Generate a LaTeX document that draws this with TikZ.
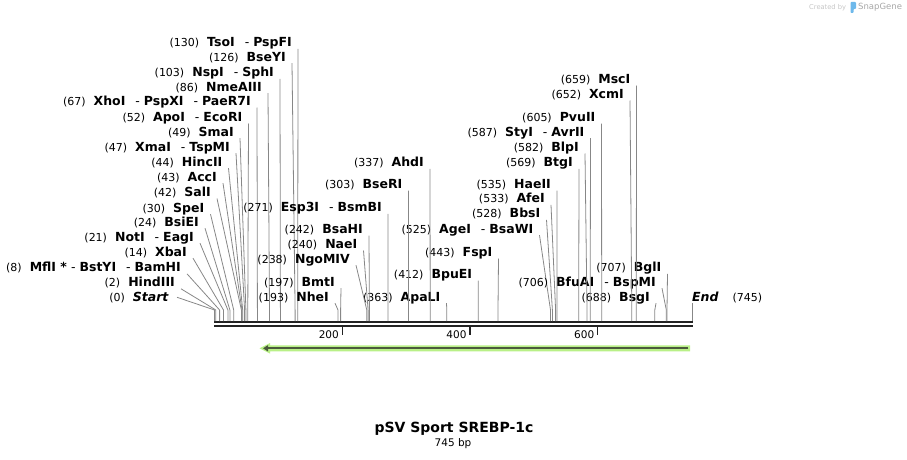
\documentclass[tikz,border=0pt]{standalone}
\usepackage{fontspec}
\setmainfont{DejaVu Sans}
\usetikzlibrary{arrows.meta}
\definecolor{cutgray}{RGB}{135,135,135}
\definecolor{bbdark}{RGB}{34,34,34}
\definecolor{halogreen}{RGB}{185,240,135}
\definecolor{featdark}{RGB}{75,90,60}
\definecolor{logoblue}{RGB}{110,185,235}
\newcommand{\sitepos}[1]{{\fontsize{11}{13}\selectfont(#1)}\hspace{8pt}}
\newcommand{\dsep}{\hspace{10pt}-\hspace{4pt}}

\begin{document}
\begin{tikzpicture}
	[x=1pt, y=-1pt,
	 enz/.style={anchor=base east, inner sep=0pt, font=\fontsize{12.5}{14}\selectfont},
	 cut/.style={cutgray, line width=0.8pt},
	 backbone/.style={bbdark, line width=2.8pt},
	 tick/.style={bbdark, line width=1.5pt},
	 ticklbl/.style={anchor=east, inner sep=0pt, font=\fontsize{10.5}{12}\selectfont}]
	\useasboundingbox (0,0) rectangle (907,460);

	%Backbone
	\coordinate (top) at (0,321);
	\draw[backbone] (214,322) -- (692.5,322);
	\draw[backbone] (214,326) -- (692.5,326);
	\draw[tick] (342.3,327) -- (342.3,335);
	\draw[tick] (470,327) -- (470,335);
	\draw[tick] (597.7,327) -- (597.7,335);
	\node[ticklbl] (t200) at (339,334.5) {200};
	\node[ticklbl] (t400) at (466.7,334.5) {400};
	\node[ticklbl] (t600) at (594.4,334.5) {600};

	%Feature arrow
	\fill[halogreen] (690,345.3) -- (270,345.3) -- (270,343) -- (259.5,348.3) -- (270,353.6) -- (270,351.3) -- (690,351.3) -- cycle;
	\draw[featdark, line width=2pt, -{Triangle[length=5pt,width=6pt]}] (688.3,348.3) -- (263,348.3);

	%Cut sites
	\coordinate (c0) at (214.5,310);
	\coordinate (c2) at (215.8,310);
	\coordinate (c8) at (219.6,310);
	\coordinate (c14) at (223.5,310);
	\coordinate (c21) at (227.9,310);
	\coordinate (c24) at (229.9,310);
	\coordinate (c30) at (233.7,310);
	\coordinate (c42) at (241.4,310);
	\coordinate (c43) at (242.0,310);
	\coordinate (c44) at (242.7,310);
	\coordinate (c47) at (244.6,310);
	\coordinate (c49) at (245.9,310);
	\coordinate (c52) at (247.8,310);
	\coordinate (c67) at (257.4,310);
	\coordinate (c86) at (269.5,310);
	\coordinate (c103) at (280.4,310);
	\coordinate (c126) at (295.1,310);
	\coordinate (c130) at (297.7,310);
	\coordinate (c193) at (338.0,310);
	\coordinate (c197) at (340.6,310);
	\coordinate (c238) at (366.8,310);
	\coordinate (c240) at (368.1,310);
	\coordinate (c242) at (369.4,310);
	\coordinate (c271) at (387.9,310);
	\coordinate (c303) at (408.4,310);
	\coordinate (c337) at (430.2,310);
	\coordinate (c363) at (446.8,310);
	\coordinate (c412) at (478.2,310);
	\coordinate (c443) at (498.0,310);
	\coordinate (c525) at (550.5,310);
	\coordinate (c528) at (552.4,310);
	\coordinate (c533) at (555.6,310);
	\coordinate (c535) at (556.9,310);
	\coordinate (c569) at (578.7,310);
	\coordinate (c582) at (587.0,310);
	\coordinate (c587) at (590.2,310);
	\coordinate (c605) at (601.7,310);
	\coordinate (c652) at (631.8,310);
	\coordinate (c659) at (636.3,310);
	\coordinate (c688) at (654.8,310);
	\coordinate (c706) at (666.3,310);
	\coordinate (c707) at (667.0,310);
	\coordinate (c745) at (692,310);

	%Left labels
	\node[enz] (tso) at (292,46.8) {\sitepos{130}\textbf{TsoI}\dsep\textbf{PspFI}};
	\node[enz] (bsey) at (286,61.2) {\sitepos{126}\textbf{BseYI}};
	\node[enz] (nsp) at (274,76.8) {\sitepos{103}\textbf{NspI}\dsep\textbf{SphI}};
	\node[enz] (nme) at (262,91.2) {\sitepos{86}\textbf{NmeAIII}};
	\node[enz] (xho) at (251,105.5) {\sitepos{67}\textbf{XhoI}\dsep\textbf{PspXI}\dsep\textbf{PaeR7I}};
	\node[enz] (apo) at (242.5,121.5) {\sitepos{52}\textbf{ApoI}\dsep\textbf{EcoRI}};
	\node[enz] (sma) at (234,136.2) {\sitepos{49}\textbf{SmaI}};
	\node[enz] (xma) at (230,151.2) {\sitepos{47}\textbf{XmaI}\dsep\textbf{TspMI}};
	\node[enz] (hinc) at (222.5,166.2) {\sitepos{44}\textbf{HincII}};
	\node[enz] (acc) at (217,181.2) {\sitepos{43}\textbf{AccI}};
	\node[enz] (sal) at (211,196.5) {\sitepos{42}\textbf{SalI}};
	\node[enz] (spe) at (204.5,212.2) {\sitepos{30}\textbf{SpeI}};
	\node[enz] (bsie) at (199,226.2) {\sitepos{24}\textbf{BsiEI}};
	\node[enz] (notI) at (194,241.2) {\sitepos{21}\textbf{NotI}\dsep\textbf{EagI}};
	\node[enz] (xba) at (187,256.2) {\sitepos{14}\textbf{XbaI}};
	\node[enz] (mfl) at (181,271.8) {\sitepos{8}\textbf{MflI *}\hspace{4pt}-\hspace{4pt}\textbf{BstYI}\dsep\textbf{BamHI}};
	\node[enz] (hind) at (175,286.8) {\sitepos{2}\textbf{HindIII}};
	\node[enz] (startlbl) at (169,301.2) {\sitepos{0}\textbf{\textit{Start}}};

	\draw[cut] ([shift={(6,2)}]tso.base east) -- (c130) -- (c130 |- top);
	\draw[cut] ([shift={(6,2)}]bsey.base east) -- (c126) -- (c126 |- top);
	\draw[cut] ([shift={(6,2)}]nsp.base east) -- (c103) -- (c103 |- top);
	\draw[cut] ([shift={(6,2)}]nme.base east) -- (c86) -- (c86 |- top);
	\draw[cut] ([shift={(6,2)}]xho.base east) -- (c67) -- (c67 |- top);
	\draw[cut] ([shift={(6,2)}]apo.base east) -- (c52) -- (c52 |- top);
	\draw[cut] ([shift={(6,2)}]sma.base east) -- (c49) -- (c49 |- top);
	\draw[cut] ([shift={(6,2)}]xma.base east) -- (c47) -- (c47 |- top);
	\draw[cut] ([shift={(6,2)}]hinc.base east) -- (c44) -- (c44 |- top);
	\draw[cut] ([shift={(6,2)}]acc.base east) -- (c43) -- (c43 |- top);
	\draw[cut] ([shift={(6,2)}]sal.base east) -- (c42) -- (c42 |- top);
	\draw[cut] ([shift={(6,2)}]spe.base east) -- (c30) -- (c30 |- top);
	\draw[cut] ([shift={(6,2)}]bsie.base east) -- (c24) -- (c24 |- top);
	\draw[cut] ([shift={(6,2)}]notI.base east) -- (c21) -- (c21 |- top);
	\draw[cut] ([shift={(6,2)}]xba.base east) -- (c14) -- (c14 |- top);
	\draw[cut] ([shift={(6,2)}]mfl.base east) -- (c8) -- (c8 |- top);
	\draw[cut] ([shift={(6,2)}]hind.base east) -- (c2) -- (c2 |- top);
	\draw[cut] ([shift={(8,0)}]startlbl.east) -- (c0) -- (c0 |- top);

	%Middle labels
	\node[enz] (esp) at (382,211.8) {\sitepos{271}\textbf{Esp3I}\dsep\textbf{BsmBI}};
	\node[enz] (bsah) at (363,233.5) {\sitepos{242}\textbf{BsaHI}};
	\node[enz] (nae) at (357.5,248.5) {\sitepos{240}\textbf{NaeI}};
	\node[enz] (ngo) at (350,263.2) {\sitepos{238}\textbf{NgoMIV}};
	\node[enz] (bmt) at (335,286.2) {\sitepos{197}\textbf{BmtI}};
	\node[enz] (nhe) at (329,301.2) {\sitepos{193}\textbf{NheI}};
	\node[enz] (ahd) at (424,166.8) {\sitepos{337}\textbf{AhdI}};
	\node[enz] (bser) at (402.5,188.5) {\sitepos{303}\textbf{BseRI}};
	\node[enz] (apal) at (440.5,301.2) {\sitepos{363}\textbf{ApaLI}};
	\node[enz] (age) at (533.5,233.2) {\sitepos{525}\textbf{AgeI}\dsep\textbf{BsaWI}};
	\node[enz] (fsp) at (492.5,256.5) {\sitepos{443}\textbf{FspI}};
	\node[enz] (bpue) at (472.3,278.5) {\sitepos{412}\textbf{BpuEI}};

	\draw[cut] ([shift={(6,2)}]esp.base east) -- (c271) -- (c271 |- top);
	\draw[cut] ([shift={(6,2)}]bsah.base east) -- (c242) -- (c242 |- top);
	\draw[cut] ([shift={(6,2)}]nae.base east) -- (c240) -- (c240 |- top);
	\draw[cut] ([shift={(6,2)}]ngo.base east) -- (c238) -- (c238 |- top);
	\draw[cut] ([shift={(6,2)}]bmt.base east) -- (c197) -- (c197 |- top);
	\draw[cut] ([shift={(6,2)}]nhe.base east) -- (c193) -- (c193 |- top);
	\draw[cut] ([shift={(6,2)}]ahd.base east) -- (c337) -- (c337 |- top);
	\draw[cut] ([shift={(6,2)}]bser.base east) -- (c303) -- (c303 |- top);
	\draw[cut] ([shift={(6,2)}]apal.base east) -- (c363) -- (c363 |- top);
	\draw[cut] ([shift={(6,2)}]age.base east) -- (c525) -- (c525 |- top);
	\draw[cut] ([shift={(6,2)}]fsp.base east) -- (c443) -- (c443 |- top);
	\draw[cut] ([shift={(6,2)}]bpue.base east) -- (c412) -- (c412 |- top);

	%Right labels
	\node[enz] (msc) at (630.5,83.5) {\sitepos{659}\textbf{MscI}};
	\node[enz] (xcm) at (624,98.5) {\sitepos{652}\textbf{XcmI}};
	\node[enz] (pvu) at (595.5,121.5) {\sitepos{605}\textbf{PvuII}};
	\node[enz] (sty) at (584.5,136.2) {\sitepos{587}\textbf{StyI}\dsep\textbf{AvrII}};
	\node[enz] (blp) at (579,151.5) {\sitepos{582}\textbf{BlpI}};
	\node[enz] (btg) at (573,166.8) {\sitepos{569}\textbf{BtgI}};
	\node[enz] (hae) at (551,188.5) {\sitepos{535}\textbf{HaeII}};
	\node[enz] (afe) at (545,202.8) {\sitepos{533}\textbf{AfeI}};
	\node[enz] (bbs) at (540.5,217.8) {\sitepos{528}\textbf{BbsI}};
	\node[enz] (bgl) at (661.5,271.8) {\sitepos{707}\textbf{BglI}};
	\node[enz] (bfu) at (656,286.2) {\sitepos{706}\textbf{BfuAI}\dsep\textbf{BspMI}};
	\node[enz] (bsg) at (650,301.2) {\sitepos{688}\textbf{BsgI}};
	\node[enz, anchor=base west] (endlbl) at (692,301.2) {\textbf{\textit{End}}\hspace{14pt}{\fontsize{11}{13}\selectfont(745)}};

	\draw[cut] ([shift={(6,2)}]msc.base east) -- (c659) -- (c659 |- top);
	\draw[cut] ([shift={(6,2)}]xcm.base east) -- (c652) -- (c652 |- top);
	\draw[cut] ([shift={(6,2)}]pvu.base east) -- (c605) -- (c605 |- top);
	\draw[cut] ([shift={(6,2)}]sty.base east) -- (c587) -- (c587 |- top);
	\draw[cut] ([shift={(6,2)}]blp.base east) -- (c582) -- (c582 |- top);
	\draw[cut] ([shift={(6,2)}]btg.base east) -- (c569) -- (c569 |- top);
	\draw[cut] ([shift={(6,2)}]hae.base east) -- (c535) -- (c535 |- top);
	\draw[cut] ([shift={(6,2)}]afe.base east) -- (c533) -- (c533 |- top);
	\draw[cut] ([shift={(6,2)}]bbs.base east) -- (c528) -- (c528 |- top);
	\draw[cut] ([shift={(6,2)}]bgl.base east) -- (c707) -- (c707 |- top);
	\draw[cut] ([shift={(6,2)}]bfu.base east) -- (c706) -- (c706 |- top);
	\draw[cut] ([shift={(6,2)}]bsg.base east) -- (c688) -- (c688 |- top);
	\draw[cut] ([shift={(0,2)}]endlbl.base west) -- (c745 |- top);

	%Title
	\node[font=\bfseries\fontsize{14}{16}\selectfont] (title) at (454,429) {pSV Sport SREBP-1c};
	\node[font=\fontsize{10.5}{12}\selectfont] (len) at (453,444) {745 bp};

	%Credit
	\node[anchor=west, inner sep=0pt, text=gray!45, font=\fontsize{6.7}{8}\selectfont] (credit) at (809,7.5) {Created by};
	\fill[logoblue, rounded corners=0.8pt] (850.5,2) -- (856,2) -- (856,9) -- (853.5,9) -- (853.5,13) -- (850.5,13) -- cycle;
	\node[anchor=west, inner sep=0pt, text=gray!70, font=\fontsize{8.5}{10}\selectfont] (brand) at (858,7.5) {SnapGene};
\end{tikzpicture}
\end{document}
